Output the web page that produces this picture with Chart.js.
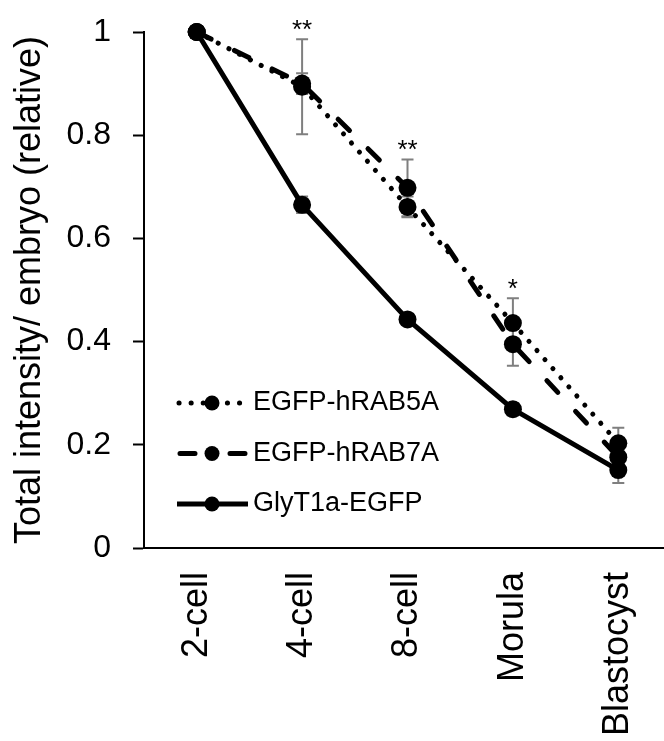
<!DOCTYPE html>
<html>
<head>
<meta charset="utf-8">
<script src="https://cdn.jsdelivr.net/npm/chart.js@4.4.1/dist/chart.umd.min.js"></script>
<style>
  html, body { margin: 0; padding: 0; background: #fff; overflow: hidden; }
  #wrap { width: 680px; height: 741px; }
</style>
</head>
<body>
<div id="wrap"><canvas id="embryoChart"></canvas></div>
<script>
// data
const stages = ['2-cell', '4-cell', '8-cell', 'Morula', 'Blastocyst'];

const rab5aValues = [1.0, 0.894, 0.661, 0.436, 0.203];
const rab5aErrors = [0, 0.092, 0.02, 0.048, 0.03];

const rab7aValues = [1.0, 0.900, 0.698, 0.395, 0.176];
const rab7aErrors = [0, 0.02, 0.055, 0.042, 0.02];

const glytValues = [1.0, 0.665, 0.443, 0.269, 0.151];
const glytErrors = [0, 0.016, 0.006, 0.012, 0.025];

const significance = ['', '**', '**', '*', ''];

const yTicks = [0, 0.2, 0.4, 0.6, 0.8, 1];

const FONT = 'Arial, "Liberation Sans", sans-serif';

const series = [
    { label: 'EGFP-hRAB5A', values: rab5aValues, errors: rab5aErrors, dash: [0.1, 12], legend: 'dots' },
    { label: 'EGFP-hRAB7A', values: rab7aValues, errors: rab7aErrors, dash: [16, 26], legend: 'dashes' },
    { label: 'GlyT1a-EGFP', values: glytValues, errors: glytErrors, dash: [], legend: 'solid' }
];

// error bars, asterisks and the in-plot legend
const extrasPlugin = {
    id: 'extras',
    beforeDatasetsDraw(chart) {
        const ctx = chart.ctx;
        const xs = chart.scales.x, ys = chart.scales.y;
        ctx.save();
        ctx.strokeStyle = '#7f7f7f';
        ctx.lineWidth = 2;
        series.forEach(s => {
            s.errors.forEach((e, i) => {
                if (!e) return;
                const px = xs.getPixelForValue(i);
                const top = ys.getPixelForValue(s.values[i] + e);
                const bot = ys.getPixelForValue(s.values[i] - e);
                ctx.beginPath();
                ctx.moveTo(px, top); ctx.lineTo(px, bot);
                ctx.moveTo(px - 6, top); ctx.lineTo(px + 6, top);
                ctx.moveTo(px - 6, bot); ctx.lineTo(px + 6, bot);
                ctx.stroke();
            });
        });
        ctx.restore();
    },
    afterDraw(chart) {
        const ctx = chart.ctx;
        const xs = chart.scales.x, ys = chart.scales.y;
        const area = chart.chartArea;
        ctx.save();

        // significance marks above the highest error bar
        ctx.fillStyle = '#000';
        ctx.font = '26px ' + FONT;
        ctx.textAlign = 'center';
        ctx.textBaseline = 'alphabetic';
        significance.forEach((mark, i) => {
            if (!mark) return;
            let top = Infinity;
            series.forEach(s => {
                top = Math.min(top, ys.getPixelForValue(s.values[i] + s.errors[i]));
            });
            ctx.fillText(mark, xs.getPixelForValue(i), top - 1);
        });

        // legend inside the plot, lower left
        const x0 = area.left + 33;
        const x1 = x0 + 71;
        const mx = x0 + 35;
        series.forEach((s, k) => {
            const y = area.bottom - 145 + k * 50.5;
            ctx.strokeStyle = '#000';
            ctx.lineWidth = 5;
            ctx.lineCap = 'round';
            ctx.beginPath();
            if (s.legend === 'dots') {
                ctx.setLineDash([0.1, 12]);
                ctx.moveTo(x0 + 2, y); ctx.lineTo(x1, y);
            } else if (s.legend === 'dashes') {
                ctx.setLineDash([]);
                ctx.moveTo(x0 + 3, y); ctx.lineTo(x0 + 18, y);
                ctx.moveTo(x1 - 18, y); ctx.lineTo(x1 - 3, y);
            } else {
                ctx.setLineDash([]);
                ctx.lineCap = 'butt';
                ctx.moveTo(x0, y); ctx.lineTo(x1, y);
            }
            ctx.stroke();
            ctx.setLineDash([]);
            ctx.fillStyle = '#000';
            ctx.beginPath();
            ctx.arc(mx, y, 7.5, 0, Math.PI * 2);
            ctx.fill();

            ctx.font = '27px ' + FONT;
            ctx.textAlign = 'left';
            ctx.textBaseline = 'middle';
            ctx.fillText(s.label, x1 + 5, y);
        });
        ctx.restore();
    }
};

const ctx = document.getElementById('embryoChart').getContext('2d');

new Chart(ctx, {
    type: 'line',
    data: {
        labels: stages,
        datasets: series.map(s => ({
            label: s.label,
            data: s.values,
            borderColor: '#000',
            borderWidth: 5,
            borderDash: s.dash,
            borderCapStyle: 'round',
            borderJoinStyle: 'round',
            pointRadius: 9,
            pointHoverRadius: 9,
            pointBackgroundColor: '#000',
            pointBorderWidth: 0,
            tension: 0,
            fill: false,
            clip: false
        }))
    },
    options: {
        responsive: true,
        maintainAspectRatio: false,
        animation: false,
        layout: { padding: { top: 32, right: 6, left: 0, bottom: 0 } },
        plugins: {
            legend: { display: false },
            tooltip: { enabled: false }
        },
        scales: {
            x: {
                offset: true,
                grid: { drawOnChartArea: false, drawTicks: false },
                border: { display: true, color: '#000', width: 2 },
                ticks: {
                    color: '#000',
                    font: { family: FONT, size: 36 },
                    minRotation: 90,
                    maxRotation: 90,
                    padding: 24,
                    autoSkip: false
                },
                afterFit(scale) {
                    scale.height = 193;
                    scale.paddingLeft = 0;
                    scale.paddingRight = 0;
                }
            },
            y: {
                min: 0,
                max: 1,
                afterBuildTicks(scale) {
                    scale.ticks = yTicks.map(v => ({ value: v }));
                },
                grid: {
                    drawOnChartArea: false,
                    drawTicks: true,
                    tickLength: 11,
                    tickWidth: 2,
                    tickColor: '#000'
                },
                border: { display: true, color: '#000', width: 2 },
                ticks: {
                    color: '#000',
                    font: { family: FONT, size: 32 },
                    padding: 22,
                    callback: v => String(Number(v.toFixed(1)))
                },
                title: {
                    display: true,
                    text: 'Total intensity/ embryo (relative)',
                    color: '#000',
                    font: { family: FONT, size: 36 },
                    padding: { top: 8, bottom: 0 }
                },
                afterFit(scale) {
                    scale.width = 144;
                    scale.paddingTop = 0;
                    scale.paddingBottom = 0;
                }
            }
        }
    },
    plugins: [extrasPlugin]
});
</script>
</body>
</html>
